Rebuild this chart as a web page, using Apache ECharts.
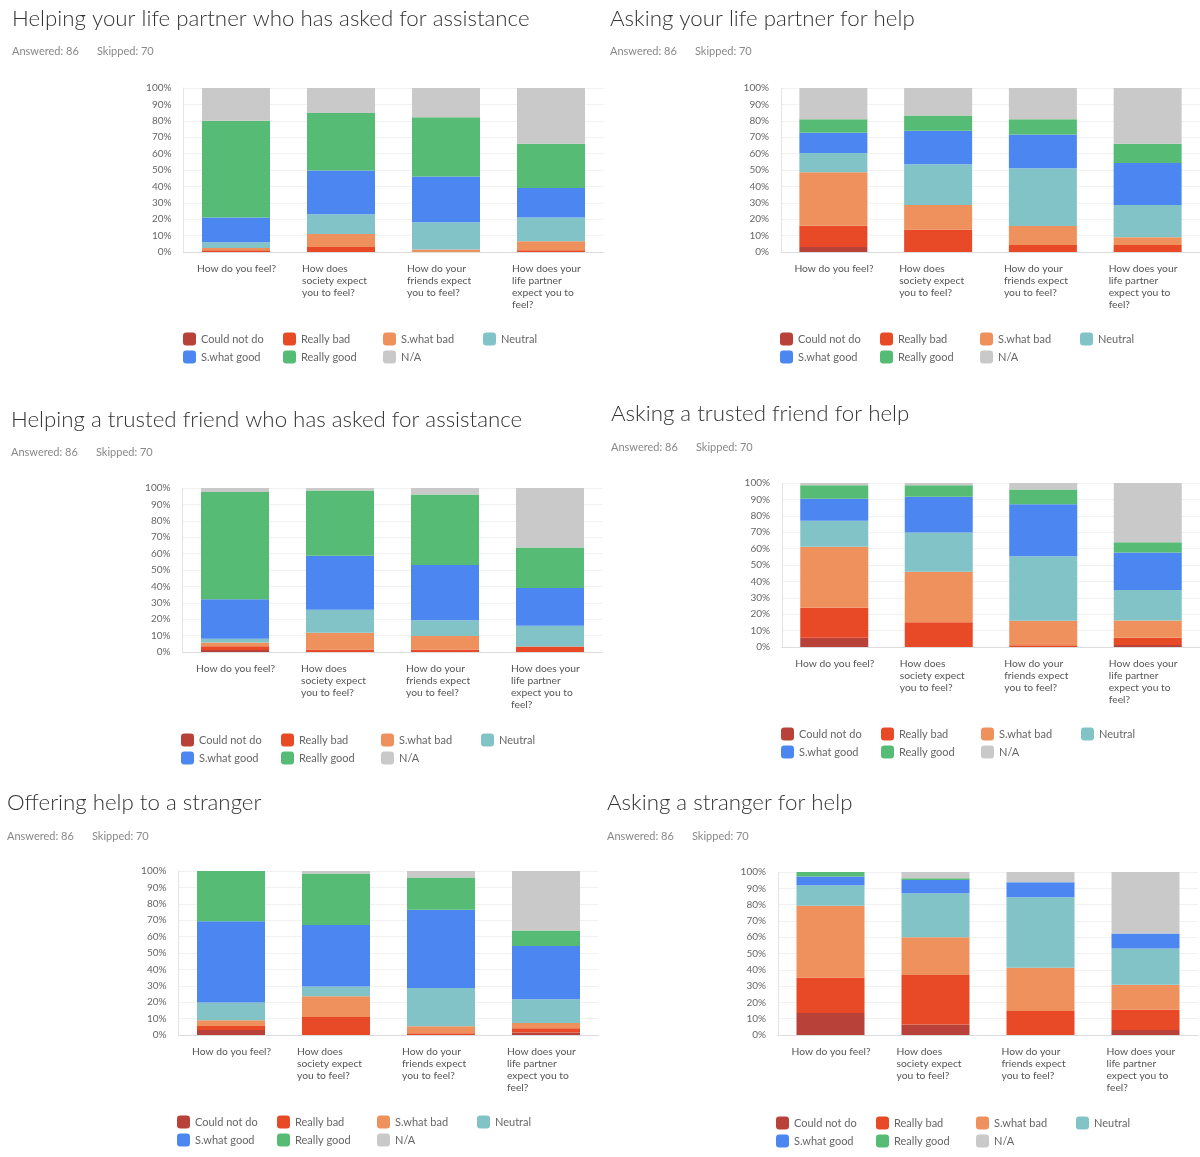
<!DOCTYPE html>
<html><head><meta charset="utf-8">
<script src="https://cdn.jsdelivr.net/npm/echarts@6/dist/echarts.min.js"></script>
<style>html,body{margin:0;padding:0;background:#fff}#c{width:1200px;height:1157px}</style>
</head><body><div id="c"></div>
<script>
// ---- data ----
const responses = ['Could not do','Really bad','S.what bad','Neutral','S.what good','Really good','N/A'];
const categories = ['How do you feel?', 'How does\nsociety expect\nyou to feel?', 'How do your\nfriends expect\nyou to feel?', 'How does your\nlife partner\nexpect you to\nfeel?'];
const yTickValues = [0,10,20,30,40,50,60,70,80,90,100];
const panelTitles = ['Helping your life partner who has asked for assistance','Asking your life partner for help','Helping a trusted friend who has asked for assistance','Asking a trusted friend for help','Offering help to a stranger','Asking a stranger for help'];
const answered = 86;
const skipped = 70;
// rows follow `responses`, columns follow `categories` (percent)
const helpingPartner = [
  [0, 0, 0, 0],
  [1, 3, 0, 1],
  [1.5, 8, 1.6, 5.5],
  [3.5, 12, 16.6, 14.5],
  [15, 26.7, 27.8, 18],
  [59, 35, 36.2, 27],
  [20, 15.3, 17.8, 34]
];
const askingPartner = [
  [3, 0, 0, 0],
  [13, 13.7, 4.3, 4.3],
  [32.6, 14.9, 11.6, 4.7],
  [11.8, 24.9, 35.1, 19.6],
  [12.3, 20.4, 20.6, 25.7],
  [8.3, 9.4, 9.4, 11.7],
  [19, 16.7, 19, 34]
];
const helpingFriend = [
  [1.2, 0, 0, 0],
  [2.3, 1.6, 1.6, 3.3],
  [2.3, 10.2, 8.2, 0],
  [2.3, 13.9, 9.6, 12.7],
  [24, 33, 33.6, 23],
  [65.5, 39.8, 43, 24.7],
  [2.4, 1.5, 4, 36.3]
];
const askingFriend = [
  [5.7, 0, 0, 1.2],
  [18.2, 15.1, 1, 4.5],
  [37.3, 30.8, 15, 10.4],
  [15.8, 23.9, 39.4, 18.6],
  [13.4, 21.8, 31.6, 22.9],
  [8.2, 7, 9, 6.3],
  [1.4, 1.4, 4, 36.1]
];
const offeringStranger = [
  [3, 0, 0, 1.6],
  [2.5, 11, 1, 2.5],
  [3.5, 12.7, 4.3, 3.2],
  [10.8, 5.9, 23.3, 14.5],
  [49.6, 37.4, 47.7, 32.5],
  [30.6, 31.4, 19.7, 9.4],
  [0, 1.6, 4, 36.3]
];
const askingStranger = [
  [13.5, 6.5, 0, 3],
  [21.7, 30.3, 14.7, 12.7],
  [44.1, 23.1, 26.6, 15.2],
  [12.5, 27, 43.2, 22.1],
  [5.5, 8.2, 9.2, 9.2],
  [2.7, 1, 0, 0],
  [0, 3.9, 6.3, 37.8]
];
const panelData = [helpingPartner, askingPartner, helpingFriend, askingFriend, offeringStranger, askingStranger];

// ---- styling / layout ----
const colors = ['#b8423a','#e84a27','#ef915c','#82c3c8','#4c86f0','#56bb74','#c9c9c9'];
const layouts = [
  {tl:12, tt:6,   gap:12, gl:183.5, gt:88,  gb:252,  ll:183, lt:332.5},
  {tl:610,tt:6,   gap:12, gl:781,   gt:88,  gb:252,  ll:780, lt:332.5},
  {tl:11, tt:407, gap:12, gl:182.5, gt:488, gb:652,  ll:181, lt:733.5},
  {tl:611,tt:401, gap:13, gl:782,   gt:483, gb:647,  ll:781, lt:727.5},
  {tl:7,  tt:790, gap:13, gl:178.5, gt:871, gb:1035, ll:177, lt:1115.5},
  {tl:607,tt:790, gap:13, gl:778,   gt:872, gb:1035, ll:776, lt:1116.5}
];
const GRID_W = 420;
const FONT = 'Lato, "Noto Sans", sans-serif';

const option = {animation:false, backgroundColor:'#fff', title:[], grid:[], xAxis:[], yAxis:[], legend:[], series:[]};
layouts.forEach((L, p) => {
  option.title.push({
    left:L.tl, top:L.tt, padding:0, itemGap:L.gap,
    text: panelTitles[p],
    textStyle:{fontFamily:FONT, fontSize:22.3, fontWeight:300, color:'#333', lineHeight:26},
    subtext: '{a|Answered: ' + answered + '}{b|Skipped: ' + skipped + '}',
    subtextStyle:{fontFamily:FONT, fontSize:11, color:'#888', lineHeight:14,
      rich:{a:{width:85, fontFamily:FONT, fontSize:11, color:'#888'}, b:{fontFamily:FONT, fontSize:11, color:'#888'}}}
  });
  option.grid.push({left:L.gl, top:L.gt, width:GRID_W, height:L.gb - L.gt, containLabel:false});
  option.xAxis.push({
    type:'category', gridIndex:p, data:categories,
    axisLine:{show:true, lineStyle:{color:'#dcdcdc'}}, axisTick:{show:false},
    axisLabel:{interval:0, margin:11,
      formatter: v => v.split('\n').map(s => '{a|' + s + '}').join('\n'),
      rich:{a:{width:78, align:'left', fontFamily:FONT, fontSize:10.3, lineHeight:12, color:'#555'}}}
  });
  option.yAxis.push({
    type:'value', gridIndex:p, min:yTickValues[0], max:yTickValues[yTickValues.length-1], interval:10,
    axisLine:{show:true, lineStyle:{color:'#e4e4e4'}}, axisTick:{show:false},
    splitLine:{lineStyle:{color:'#f1f1f1'}},
    axisLabel:{formatter:'{value}%', margin:12, fontFamily:FONT, fontSize:10, color:'#666'}
  });
  option.legend.push({
    left:L.ll, top:L.lt, width:400, padding:0, itemGap:5, itemWidth:13, itemHeight:13,
    icon:'roundRect', data:responses,
    formatter: n => '{t|' + n + '}',
    textStyle:{rich:{t:{width:77, lineHeight:13, fontFamily:FONT, fontSize:11, color:'#666'}}}
  });
  responses.forEach((r, i) => {
    option.series.push({
      type:'bar', name:r, stack:'s' + p, xAxisIndex:p, yAxisIndex:p,
      barWidth:68, data:panelData[p][i],
      itemStyle:{color:colors[i]}, emphasis:{disabled:true}
    });
  });
});
const chart = echarts.init(document.getElementById('c'), null, {renderer:'canvas'});
chart.setOption(option);
</script>
</body></html>
